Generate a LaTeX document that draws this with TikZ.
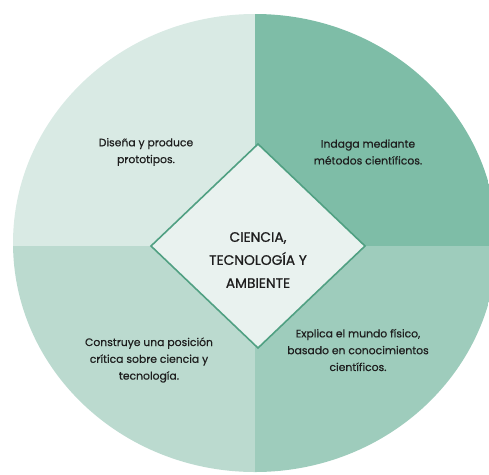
\documentclass[tikz,border=0pt]{standalone}
\usepackage{fontspec}
\setmainfont{Poppins}
\newfontfamily\labfont{Poppins}[FakeBold=0.5]
\newfontfamily\mainfont{Poppins}[FakeBold=0.8]
\definecolor{qtl}{RGB}{217,234,228}
\definecolor{qtr}{RGB}{126,189,167}
\definecolor{qbl}{RGB}{187,218,207}
\definecolor{qbr}{RGB}{158,204,188}
\definecolor{dfill}{RGB}{233,242,239}
\definecolor{dline}{RGB}{80,160,130}
\definecolor{txt}{RGB}{30,30,30}
\begin{document}
\begin{tikzpicture}[x=1pt,y=-1pt,
  lab/.style={align=center,text=txt,font=\labfont\fontsize{10.8}{16.8}\selectfont,inner sep=0pt},
  mainlab/.style={align=center,text=txt,font=\mainfont\fontsize{13.8}{23}\selectfont,inner sep=0pt}]
\useasboundingbox (0,0) rectangle (489,474);
\begin{scope}
\clip (255,243) ellipse [x radius=242, y radius=229];
\fill[qtl] (0,0) rectangle (255,246);
\fill[qtr] (255,0) rectangle (500,246);
\fill[qbl] (0,246) rectangle (255,480);
\fill[qbr] (255,246) rectangle (500,480);
\end{scope}
\coordinate (dt) at (258,144);
\coordinate (dr) at (365,246);
\coordinate (db) at (258,348);
\coordinate (dl) at (151,246);
\draw[dline,fill=dfill,line width=1.6pt,line join=miter] (dt) -- (dr) -- (db) -- (dl) -- cycle;
\node[mainlab] (center) at (258,260) {CIENCIA,\\TECNOLOGÍA Y\\AMBIENTE};
\node[lab] (tl) at (146,152) {Diseña y produce\\prototipos.};
\node[lab] (tr) at (368,152) {Indaga mediante\\métodos científicos.};
\node[lab] (bl) at (149,360) {Construye una posición\\crítica sobre ciencia y\\tecnología.};
\node[lab] (br) at (358,350) {Explica el mundo físico,\\basado en conocimientos\\científicos.};
\end{tikzpicture}
\end{document}
